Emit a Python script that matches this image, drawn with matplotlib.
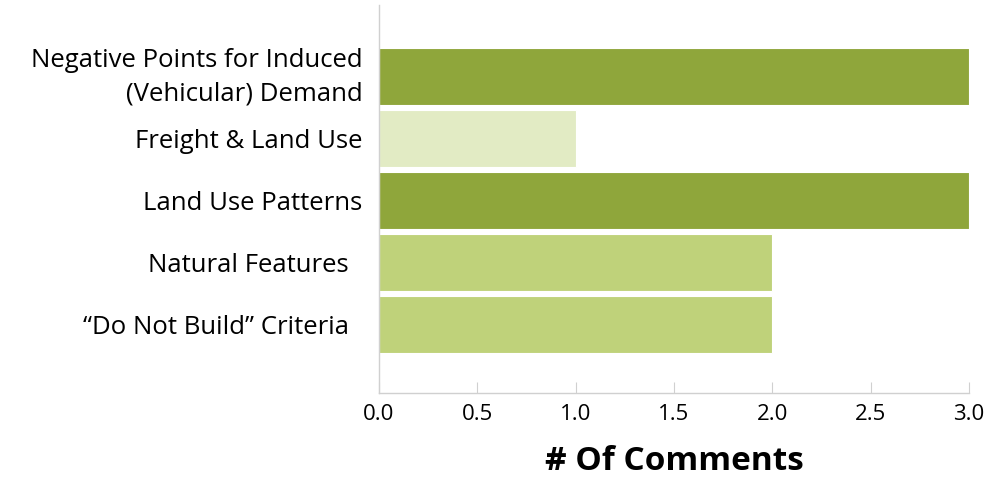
import matplotlib
matplotlib.use('Agg')
import matplotlib.pyplot as plt
import matplotlib.transforms as mtransforms

categories = ['\u201cDo Not Build\u201d Criteria  ', 'Natural Features  ', 'Land Use Patterns',
              'Freight & Land Use', 'Negative Points for Induced\n(Vehicular) Demand']
counts = [2, 2, 3, 1, 3]
colors = ['#bfd27a', '#bfd27a', '#8fa63b', '#e2ebc4', '#8fa63b']

plt.rcParams['font.family'] = ['Open Sans', 'DejaVu Sans']

fig = plt.figure(figsize=(9.88, 4.79), dpi=100)
ax = fig.add_axes([0.3836, 0.1795, 0.5972, 0.81])

ax.barh(range(len(categories)), counts, height=0.91, color=colors, edgecolor='white', linewidth=0.8)

ax.set_xlim(0, 3)
ax.set_ylim(-1.1, 5.15)
ax.set_xticks([0, 0.5, 1, 1.5, 2, 2.5, 3])
ax.set_xticklabels(['0.0', '0.5', '1.0', '1.5', '2.0', '2.5', '3.0'], fontsize=16)
ax.set_yticks(range(len(categories)))
ax.set_yticklabels(categories, fontsize=18.5, linespacing=1.4)
ax.tick_params(axis='y', length=0, pad=12)
ax.tick_params(axis='x', direction='in', length=8, color='#d0d0d0', pad=8)
ax.set_xlabel('# Of Comments', fontsize=24, fontweight='bold', labelpad=14)

# nudge the two-line label up a little so it sits centred on its bar
top_label = ax.get_yticklabels()[-1]
top_label.set_transform(top_label.get_transform() +
                        mtransforms.ScaledTranslation(0, 6 / 100, fig.dpi_scale_trans))

for s in ['top', 'right']:
    ax.spines[s].set_visible(False)
for s in ['left', 'bottom']:
    ax.spines[s].set_color('#d0d0d0')
    ax.spines[s].set_linewidth(1)

fig.savefig('out.png', dpi=100)
